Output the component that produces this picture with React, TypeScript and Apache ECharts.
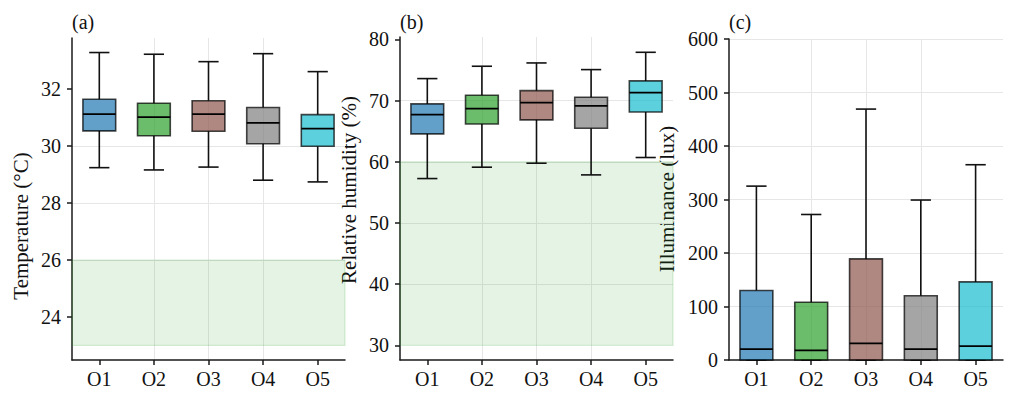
import React, { useEffect, useRef } from 'react';
import * as echarts from 'echarts';

const categories = ['O1', 'O2', 'O3', 'O4', 'O5'];
const boxColors = [
  'rgba(31,119,180,0.7)',
  'rgba(44,160,44,0.7)',
  'rgba(140,86,75,0.7)',
  'rgba(127,127,127,0.7)',
  'rgba(23,190,207,0.7)',
];

// [lower whisker, Q1, median, Q3, upper whisker]
const temperature = [
  [29.24, 30.53, 31.12, 31.64, 33.28],
  [29.16, 30.36, 31.01, 31.5, 33.22],
  [29.26, 30.52, 31.12, 31.59, 32.96],
  [28.8, 30.08, 30.81, 31.35, 33.24],
  [28.74, 29.99, 30.61, 31.1, 32.61],
];
const humidity = [
  [57.26, 64.56, 67.71, 69.46, 73.6],
  [59.12, 66.19, 68.69, 70.88, 75.62],
  [59.77, 66.85, 69.67, 71.63, 76.16],
  [57.86, 65.49, 69.13, 70.55, 75.07],
  [60.7, 68.15, 71.31, 73.22, 77.9],
];
const illuminance = [
  [0, 0, 20.5, 130, 325],
  [0, 0, 18, 108, 272],
  [0, 0, 31, 189, 469],
  [0, 0, 20.5, 120, 299],
  [0, 0, 26, 146, 365],
];

const tempComfort = [23, 26];
const humidComfort = [30, 60];

const tempTicks = [24, 26, 28, 30, 32];
const humidTicks = [30, 40, 50, 60, 70, 80];
const luxTicks = [0, 100, 200, 300, 400, 500, 600];

const tempRange = [22.49, 33.79];
const humidRange = [27.6, 80.4];
const luxRange = [0, 600];

const panelTitles = ['(a)', '(b)', '(c)'];
const yNames = ['Temperature (°C)', 'Relative humidity (%)', 'Illuminance (lux)'];

const FONT = 'Liberation Serif';
const FS = 20;
const FS_NAME = 21;

const grids = [
  { left: 72, top: 38, width: 273, height: 322 },
  { left: 400, top: 37, width: 273, height: 323 },
  { left: 729, top: 39, width: 274, height: 321 },
];

function renderBox(params: any, api: any) {
  const x = api.value(0);
  const low = api.value(1);
  const q1 = api.value(2);
  const med = api.value(3);
  const q3 = api.value(4);
  const high = api.value(5);
  const [cx, yLow] = api.coord([x, low]);
  const yQ1 = api.coord([x, q1])[1];
  const yMed = api.coord([x, med])[1];
  const yQ3 = api.coord([x, q3])[1];
  const yHigh = api.coord([x, high])[1];
  const bw = api.size([0.6, 0])[0];
  const cw = api.size([0.37, 0])[0];
  const lineStyle = { stroke: '#111', lineWidth: 1.6 };
  return {
    type: 'group',
    children: [
      { type: 'line', shape: { x1: cx, y1: yLow, x2: cx, y2: yQ1 }, style: lineStyle },
      { type: 'line', shape: { x1: cx, y1: yQ3, x2: cx, y2: yHigh }, style: lineStyle },
      { type: 'line', shape: { x1: cx - cw / 2, y1: yLow, x2: cx + cw / 2, y2: yLow }, style: lineStyle },
      { type: 'line', shape: { x1: cx - cw / 2, y1: yHigh, x2: cx + cw / 2, y2: yHigh }, style: lineStyle },
      {
        type: 'rect',
        shape: { x: cx - bw / 2, y: yQ3, width: bw, height: yQ1 - yQ3 },
        style: { fill: boxColors[params.dataIndex], stroke: 'rgba(0,0,0,0.72)', lineWidth: 1.6 },
      },
      { type: 'line', shape: { x1: cx - bw / 2, y1: yMed, x2: cx + bw / 2, y2: yMed }, style: { stroke: '#000', lineWidth: 1.8 } },
    ],
  };
}

export default function App() {
  const ref = useRef<HTMLDivElement>(null);
  useEffect(() => {
    if (!ref.current) return;
    const chart = echarts.init(ref.current, undefined, { renderer: 'svg' });
    const datasets = [temperature, humidity, illuminance];
    const ranges = [tempRange, humidRange, luxRange];
    const ticks = [tempTicks, humidTicks, luxTicks];
    const comfort = [tempComfort, humidComfort, null];

    const axisLineStyle = { color: '#1a1a1a', width: 1.5 };
    const labelStyle = { fontFamily: FONT, fontSize: FS, color: '#111' };

    const xAxis = grids.map((_, i) => ({
      type: 'value',
      gridIndex: i,
      min: -0.5,
      max: 4.5,
      axisLine: { show: true, onZero: false, lineStyle: axisLineStyle },
      axisTick: { show: true, length: 5, customValues: [0, 1, 2, 3, 4], lineStyle: axisLineStyle },
      axisLabel: {
        ...labelStyle,
        margin: 9,
        customValues: [0, 1, 2, 3, 4],
        formatter: (v: number) => categories[Math.round(v)] ?? '',
      },
      splitLine: { show: true, showMinLine: false, showMaxLine: false, lineStyle: { color: '#e6e6e6', width: 1 } },
    }));

    const yAxis = grids.map((_, i) => ({
      type: 'value',
      gridIndex: i,
      min: ranges[i][0],
      max: ranges[i][1],
      axisLine: { show: true, onZero: false, lineStyle: axisLineStyle },
      axisTick: { show: true, length: 5, customValues: ticks[i], lineStyle: axisLineStyle },
      axisLabel: { ...labelStyle, margin: 11, customValues: ticks[i], formatter: (v: number) => String(v) },
      splitLine: { show: true, showMinLine: false, showMaxLine: i === 2, lineStyle: { color: '#e6e6e6', width: 1 } },
    }));

    const series = datasets.map((d, i) => ({
      type: 'custom',
      xAxisIndex: i,
      yAxisIndex: i,
      renderItem: renderBox,
      data: d.map((row, k) => [k, ...row]),
      encode: { x: 0, y: [1, 2, 3, 4, 5] },
      clip: false,
      markArea: comfort[i]
        ? {
            silent: true,
            itemStyle: { color: 'rgba(44,160,44,0.12)', borderColor: 'rgba(44,160,44,0.18)', borderWidth: 1.2 },
            data: [[{ yAxis: (comfort[i] as number[])[0] }, { yAxis: (comfort[i] as number[])[1] }]],
          }
        : undefined,
    }));

    const yNameX = [21, 349, 667];
    const yNameY = [226, 190, 199];
    const graphic: any[] = [];
    grids.forEach((g, i) => {
      graphic.push({
        type: 'text',
        x: g.left,
        y: 22,
        style: { text: panelTitles[i], fontFamily: FONT, fontSize: FS, fill: '#111', align: 'left', verticalAlign: 'middle' },
      });
      graphic.push({
        type: 'text',
        x: yNameX[i],
        y: yNameY[i],
        rotation: Math.PI / 2,
        style: { text: yNames[i], fontFamily: FONT, fontSize: FS_NAME, fill: '#111', align: 'center', verticalAlign: 'middle' },
      });
    });

    chart.setOption({
      animation: false,
      backgroundColor: '#fff',
      textStyle: { fontFamily: FONT },
      grid: grids.map((g) => ({ ...g, containLabel: false })),
      xAxis,
      yAxis,
      series,
      graphic,
    });
    return () => chart.dispose();
  }, []);
  return <div ref={ref} style={{ position: 'fixed', left: 0, top: 0, width: 1015, height: 404 }} />;
}
